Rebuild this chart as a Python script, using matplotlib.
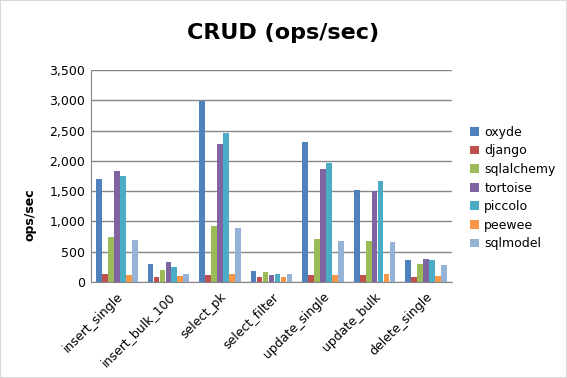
import matplotlib
matplotlib.use("Agg")
import matplotlib.pyplot as plt
import numpy as np

categories = ["insert_single", "insert_bulk_100", "select_pk", "select_filter",
              "update_single", "update_bulk", "delete_single"]
series_names = ["oxyde", "django", "sqlalchemy", "tortoise", "piccolo", "peewee", "sqlmodel"]
oxyde = [1695, 292, 2983, 187, 2317, 1519, 358]
django = [127, 83, 121, 77, 121, 116, 77]
sqlalchemy = [748, 193, 925, 165, 710, 683, 292]
tortoise = [1833, 330, 2278, 110, 1860, 1508, 374]
piccolo = [1750, 242, 2465, 138, 1970, 1662, 369]
peewee = [110, 94, 138, 83, 116, 132, 99]
sqlmodel = [688, 138, 897, 138, 683, 655, 281]
yticks = [0, 500, 1000, 1500, 2000, 2500, 3000, 3500]

series = [oxyde, django, sqlalchemy, tortoise, piccolo, peewee, sqlmodel]
colors = ["#4F81BD", "#C0504D", "#9BBB59", "#8064A2", "#4BACC6", "#F79646", "#95B3D7"]

fig = plt.figure(figsize=(5.67, 3.78), dpi=100)
ax = fig.add_axes([91/567, 1-282/378, (452-91)/567, (282-70)/378])

x = np.arange(len(categories))
w = 0.116
n = len(series)
for i, (name, vals, c) in enumerate(zip(series_names, series, colors)):
    ax.bar(x + (i - (n-1)/2) * w, vals, width=w*0.95, color=c, label=name, zorder=3)

ax.set_xlim(-0.5, len(categories) - 0.5)
ax.set_ylim(0, 3500)
ax.set_yticks(yticks)
ax.set_yticklabels([f"{v:,}" for v in yticks], fontsize=9)
ax.set_xticks(x)
ax.set_xticklabels(categories, rotation=45, ha="right", rotation_mode="anchor", fontsize=9)
ax.tick_params(axis="x", length=0, pad=6)
ax.tick_params(axis="y", length=0, pad=4)
ax.grid(axis="y", color="#868686", linewidth=1, zorder=0)
for s in ["top", "right"]:
    ax.spines[s].set_visible(False)
for s in ["left", "bottom"]:
    ax.spines[s].set_color("#868686")
ax.set_ylabel("ops/sec", fontsize=9, fontweight="bold", va="center")
ax.yaxis.set_label_coords((30-91)/361, (282-215)/212)

fig.suptitle("CRUD (ops/sec)", fontsize=16, fontweight="bold", y=1-33/378, va="center")

leg = ax.legend(loc="center left", bbox_to_anchor=(1.02, (282-188)/212), frameon=False,
                fontsize=9, handlelength=0.7, handleheight=0.7, handletextpad=0.4,
                labelspacing=0.45)

fig.patches.append(plt.Rectangle((0, 0), 1, 1, transform=fig.transFigure,
                                 fill=False, edgecolor="#d9d9d9", linewidth=1.5))
fig.savefig("out.png", dpi=100)
